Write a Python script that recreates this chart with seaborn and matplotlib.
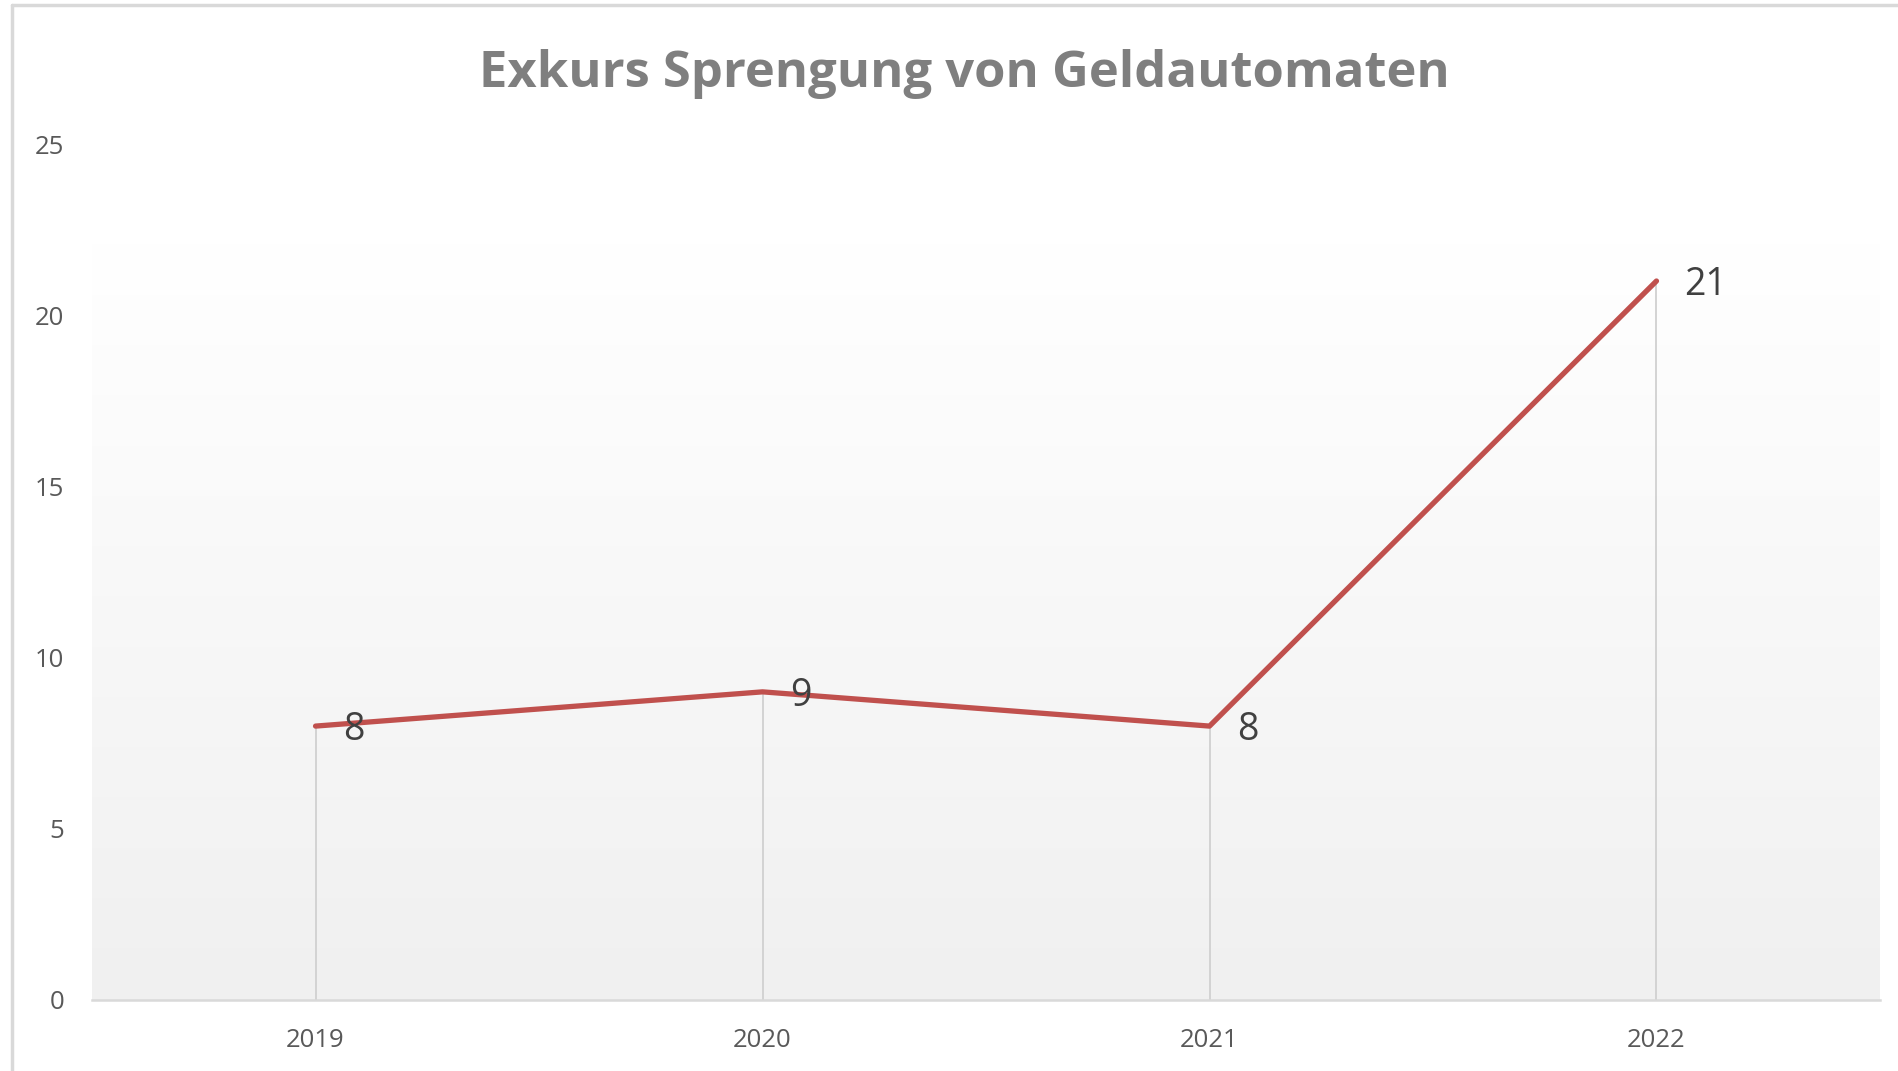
import numpy as np
import pandas as pd
import matplotlib
matplotlib.use("Agg")
import matplotlib.pyplot as plt
from matplotlib.lines import Line2D
import seaborn as sns

# chart data
years = ["2019", "2020", "2021", "2022"]
sprengungen = [8, 9, 8, 21]
y_ticks = [0, 5, 10, 15, 20, 25]
title = "Exkurs Sprengung von Geldautomaten"

line_color = "#c0504d"
text_gray = "#595959"

sns.set_theme(style="white")
plt.rcParams["font.family"] = ["Open Sans", "DejaVu Sans"]

df = pd.DataFrame({"Jahr": years, "Anzahl": sprengungen})

fig = plt.figure(figsize=(18.98, 10.71), dpi=100)
ax = fig.add_axes([0.0485, 0.0663, 0.942, 0.7992])

# plot-area gradient (white at top, light grey at bottom)
grad = np.linspace(1.0, 0.0, 256).reshape(-1, 1)
cmap = matplotlib.colors.LinearSegmentedColormap.from_list("bg", ["#f0f0f0", "#ffffff"])
ax.imshow(grad, cmap=cmap, aspect="auto", extent=[0, 1, 0, 0.884],
          transform=ax.transAxes, zorder=0, vmin=0, vmax=1)

# drop lines from each point down to zero
pos = np.arange(len(years))
ax.vlines(pos, 0, df["Anzahl"], color="#d0d0d0", lw=1.3, zorder=1)

sns.lineplot(data=df, x="Jahr", y="Anzahl", ax=ax, color=line_color,
             lw=3.8, sort=False, zorder=3)

for i, v in enumerate(sprengungen):
    ax.annotate(str(v), (i, v), xytext=(20, -3),
                textcoords="offset points", ha="left", va="center",
                fontsize=27, color="#404040", zorder=4)

ax.set_xlim(-0.5, len(years) - 0.5)
ax.set_ylim(0, 25)
ax.set_yticks(y_ticks)
ax.set_xlabel("")
ax.set_ylabel("")
ax.tick_params(axis="both", length=0, labelsize=18.5, labelcolor=text_gray)
ax.tick_params(axis="y", pad=20)
ax.tick_params(axis="x", pad=20)
for lab in ax.get_yticklabels():
    lab.set_horizontalalignment("right")

for s in ["left", "right", "top"]:
    ax.spines[s].set_visible(False)
ax.spines["bottom"].set_color("#d9d9d9")
ax.spines["bottom"].set_linewidth(1.8)
ax.set_facecolor("white")

fig.text(0.508, 0.931, title, ha="center", va="center", fontsize=36.5,
         fontweight="bold", color="#7f7f7f")

# screenshot frame on left and top
fig.add_artist(Line2D([12 / 1898, 12 / 1898], [0, 1 - 5 / 1071], color="#d9d9d9", lw=2.5))
fig.add_artist(Line2D([12 / 1898, 1], [1 - 5 / 1071, 1 - 5 / 1071], color="#d9d9d9", lw=2.5))

fig.savefig("out.png", dpi=100, facecolor="white")
